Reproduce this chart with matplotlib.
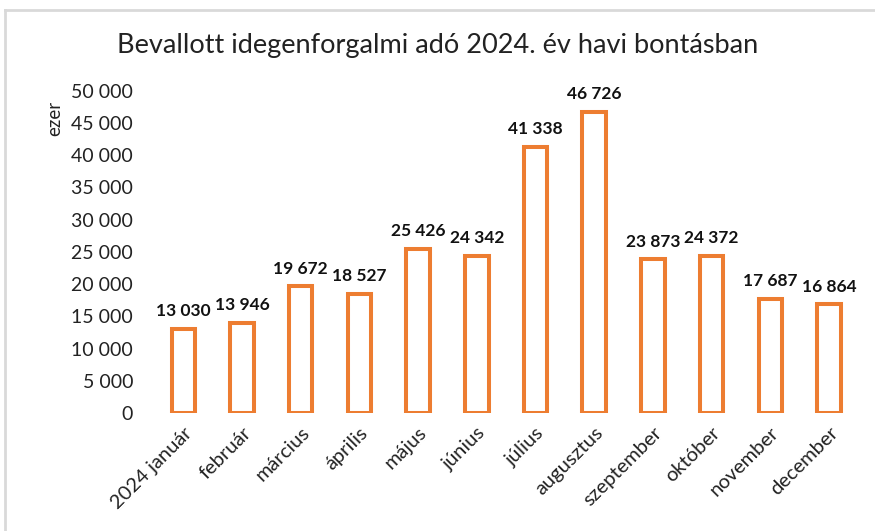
import matplotlib
matplotlib.use("Agg")
import matplotlib.pyplot as plt
from matplotlib.lines import Line2D

plt.rcParams['font.family'] = ['Lato', 'DejaVu Sans']

months = ['2024 január', 'február', 'március', 'április', 'május', 'június',
          'július', 'augusztus', 'szeptember', 'október', 'november', 'december']
values = [13030, 13946, 19672, 18527, 25426, 24342,
          41338, 46726, 23873, 24372, 17687, 16864]
yticks = [0, 5000, 10000, 15000, 20000, 25000, 30000, 35000, 40000, 45000, 50000]

def fmt(v):
    return '{:,}'.format(v).replace(',', ' ')

orange = '#ED7D31'

fig = plt.figure(figsize=(8.75, 5.31), dpi=100)
ax = fig.add_axes([0.176, 0.222, 0.805, 0.607])

x = range(len(months))
ax.bar(x, values, width=0.4, facecolor='white', edgecolor=orange, linewidth=2.9)

for i, v in zip(x, values):
    ax.annotate(fmt(v), (i, v), xytext=(0, 7), textcoords='offset points',
                ha='center', va='bottom', fontsize=12.5, fontweight='bold', color='#111111')

ax.set_xlim(-0.5, len(months) - 0.5)
ax.set_ylim(0, 50000)
ax.set_yticks(yticks)
ax.set_yticklabels([fmt(t) for t in yticks], fontsize=14, color='#222222')
ax.set_xticks(list(x))
ax.set_xticklabels(months, rotation=45, ha='right', rotation_mode='anchor',
                   fontsize=14.5, color='#222222')
ax.tick_params(length=0, axis='y', pad=15)
ax.tick_params(length=0, axis='x', pad=8)
for s in ax.spines.values():
    s.set_visible(False)

fig.text(0.5, 1 - 45 / 531, 'Bevallott idegenforgalmi adó 2024. év havi bontásban',
         ha='center', va='center', fontsize=19.5, color='#222222')
fig.text(55 / 875, 1 - 118 / 531, 'ezer', rotation=90, ha='center', va='center',
         fontsize=13.5, color='#222222')

# light grey frame (top and left edges)
fig.add_artist(Line2D([5 / 875, 1], [1 - 10 / 531, 1 - 10 / 531], transform=fig.transFigure,
                      color='#d9d9d9', linewidth=2))
fig.add_artist(Line2D([5 / 875, 5 / 875], [0, 1 - 10 / 531], transform=fig.transFigure,
                      color='#d9d9d9', linewidth=2))

fig.savefig('out.png', dpi=100, facecolor='white')
